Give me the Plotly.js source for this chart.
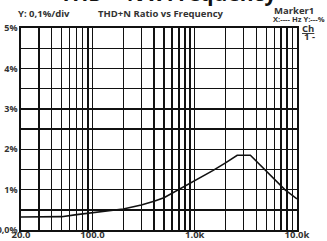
<!DOCTYPE html>
<html><head><meta charset="utf-8">
<script src="https://cdn.plot.ly/plotly-3.0.1.min.js"></script>
<style>html,body{margin:0;padding:0;background:#fff;}</style>
</head><body><div id="chart" style="width:327px;height:241px;"></div>
<script>
var freq = [20, 30, 50, 70, 100, 150, 200, 300, 400, 500, 700, 1000, 1500, 2000, 2600, 3500, 5000, 7600, 10000];
var thdn = [0.32, 0.32, 0.33, 0.38, 0.43, 0.47, 0.52, 0.62, 0.71, 0.80, 1.0, 1.22, 1.47, 1.66, 1.85, 1.85, 1.47, 1.0, 0.77];
var xGrid = [20,30,40,50,60,70,80,90,100,200,300,400,500,600,700,800,900,1000,2000,3000,4000,5000,6000,7000,8000,9000,10000];
var xLabels = {20:'20.0',100:'100.0',1000:'1.0k',10000:'10.0k'};
var yGrid = [0,0.5,1,1.5,2,2.5,3,3.5,4,4.5,5];
var yLabels = {0:'0,0%',1:'1%',2:'2%',3:'3%',4:'4%',5:'5%'};

var fam = "'Liberation Sans Narrow', 'Open Sans', sans-serif";
var fnt = {family:fam, size:9.5, color:'#333', weight:700};
var fntY = {family:fam, size:9, color:'#333', weight:700};
var fntS = {family:fam, size:7.6, color:'#333', weight:700};
var data = [{x:freq, y:thdn, type:'scatter', mode:'lines', line:{color:'#111', width:1.6}, hoverinfo:'skip'}];
var layout = {
  width:327, height:241,
  margin:{l:21, r:30, t:28, b:11, pad:0},
  paper_bgcolor:'#fff', plot_bgcolor:'#fff',
  showlegend:false,
  xaxis:{type:'log', range:[Math.log10(20), 4], tickvals:xGrid, ticktext:xGrid.map(function(v){return xLabels[v]||'';}),
    tickfont:fnt, ticks:'', ticklabelstandoff:-5, showgrid:true, gridcolor:'#111', gridwidth:1.4, showline:true, linecolor:'#111', linewidth:1.6, mirror:true, zeroline:false, fixedrange:true},
  yaxis:{range:[0,5], tickvals:yGrid, ticktext:yGrid.map(function(v){return yLabels[v]||'';}),
    tickfont:fntY, ticks:'', ticklabelstandoff:0, showgrid:true, gridcolor:'#111', gridwidth:1.4, showline:true, linecolor:'#111', linewidth:1.6, mirror:true, zeroline:false, fixedrange:true},
  annotations:[
    {text:'THD + N x Frequency', showarrow:false, font:{family:"'Open Sans', sans-serif", size:21, color:'#111', weight:700}},
    {text:'Y: 0,1%/div', showarrow:false, font:fnt},
    {text:'THD+N Ratio vs Frequency', showarrow:false, font:fnt},
    {text:'Marker1', showarrow:false, font:fnt},
    {text:'X:---- Hz Y:---%', showarrow:false, font:fntS},
    {text:'<u>Ch</u>', showarrow:false, font:fnt},
    {text:'1 -', showarrow:false, font:fnt}
  ]
};
var pw = 327-21-30, ph = 241-28-11;
function px(x){return (x-21)/pw;}
function py(y){return (241-11-y)/ph;}
var pos = [[168,-7,'center'],[17,14,'left'],[161,14,'center'],[273,11,'left'],[326,19,'right'],[301,28,'left'],[303,36,'left']];
layout.annotations.forEach(function(a,i){
  a.xref='paper'; a.yref='paper'; a.x=px(pos[i][0]); a.y=py(pos[i][1]); a.xanchor=pos[i][2]; a.yanchor='middle';
  a.borderpad=0;
});
Plotly.newPlot('chart', data, layout, {displayModeBar:false, staticPlot:true});
</script></body></html>
